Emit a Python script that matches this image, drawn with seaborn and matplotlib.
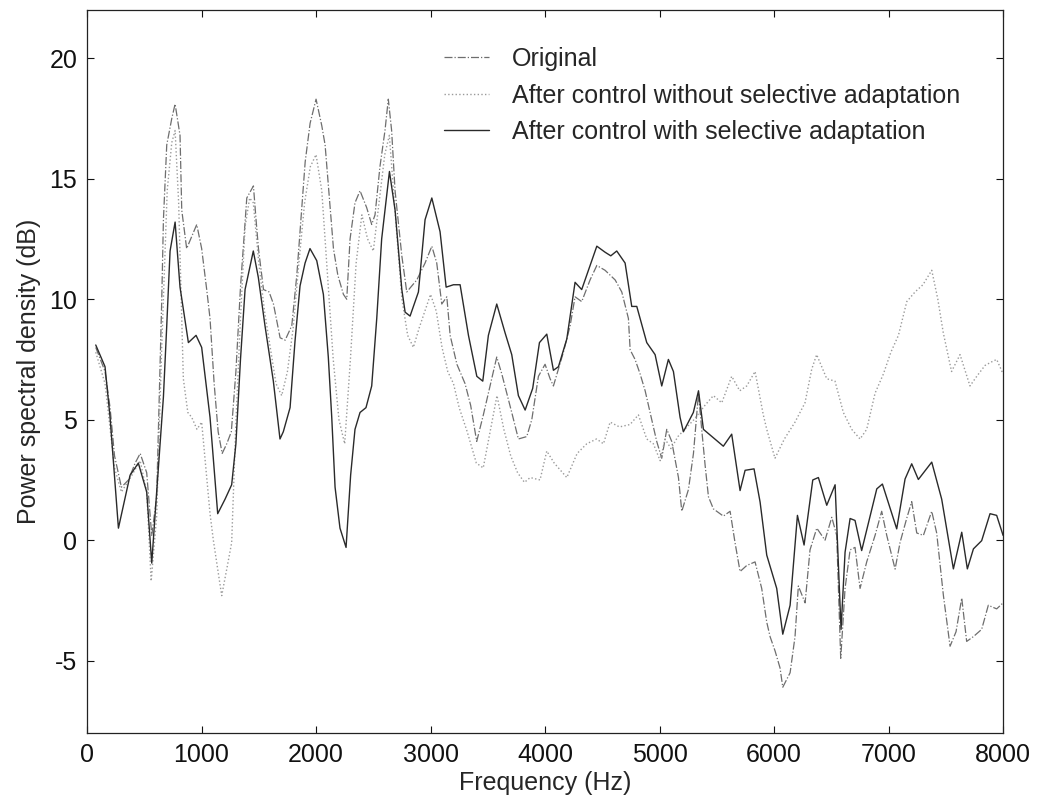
import numpy as np
import pandas as pd
import seaborn as sns
import matplotlib.pyplot as plt

# ------------------ DATA ------------------
freq_orig = [76, 157, 201, 240, 300, 362, 420, 464, 521, 565, 608, 652, 667, 696, 740, 769,
             812, 827, 870, 914, 958, 1001, 1045, 1074, 1110, 1145, 1180, 1220, 1260, 1300,
             1340, 1395, 1453, 1476, 1497, 1541, 1590, 1628, 1686, 1730, 1788, 1832, 1876,
             1905, 1948, 2000, 2050, 2079, 2123, 2152, 2190, 2239, 2268, 2297, 2340, 2384,
             2442, 2486, 2515, 2558, 2602, 2631, 2660, 2690, 2749, 2792, 2880, 2952, 3011,
             3054, 3098, 3142, 3171, 3230, 3301, 3350, 3403, 3461, 3534, 3578, 3622, 3709,
             3767, 3840, 3884, 3942, 4000, 4044, 4073, 4160, 4219, 4262, 4320, 4393, 4452,
             4524, 4612, 4670, 4728, 4743, 4786, 4830, 4874, 4932, 4975, 5019, 5063, 5106,
             5165, 5194, 5252, 5296, 5340, 5368, 5398, 5427, 5470, 5557, 5616, 5659, 5703,
             5761, 5834, 5892, 5936, 5965, 6009, 6052, 6076, 6140, 6183, 6212, 6271, 6314,
             6373, 6445, 6504, 6547, 6582, 6620, 6664, 6707, 6751, 6809, 6882, 6940, 6984,
             7057, 7100, 7158, 7202, 7246, 7304, 7377, 7420, 7479, 7537, 7589, 7639, 7682,
             7741, 7813, 7871, 7944, 8000]
psd_orig = [8.0, 7.0, 5.5, 3.5, 2.2, 2.5, 3.2, 3.6, 2.8, 0.2, 1.8, 9.9, 13.3, 16.4, 17.5, 18.1,
            16.8, 13.7, 12.1, 12.6, 13.1, 12.1, 10.4, 9.2, 6.5, 4.5, 3.6, 4.0, 4.5, 7.0,
            10.5, 14.2, 14.7, 13.3, 12.1, 10.4, 10.3, 9.8, 8.4, 8.3, 8.9, 11.0, 13.8,
            15.7, 17.3, 18.3, 17.2, 16.4, 13.8, 12.1, 11.0, 10.2, 10.0, 12.5, 14.0, 14.5,
            13.8, 13.1, 13.5, 15.5, 17.0, 18.3, 17.0, 14.5, 11.8, 10.3, 10.8, 11.5, 12.2,
            11.5, 9.8, 10.1, 8.5, 7.3, 6.5, 5.6, 4.1, 5.2, 6.7, 7.6, 6.9, 5.3,
            4.2, 4.3, 5.0, 6.8, 7.3, 6.7, 6.4, 7.8, 8.9, 10.1, 9.9, 10.8, 11.4,
            11.2, 10.8, 10.3, 9.2, 7.9, 7.5, 6.9, 6.2, 5.0, 4.1, 3.4, 4.6, 4.1,
            2.6, 1.2, 2.1, 3.6, 6.1, 4.6, 3.1, 1.8, 1.3, 1.0, 1.2, -0.1, -1.3,
            -1.05, -0.9, -2.0, -3.4, -4.0, -4.6, -5.3, -6.1, -5.5, -4.0, -1.9, -2.6, -0.4,
            0.5, 0.0, 0.95, 0.2, -4.9, -2.0, -0.4, -0.3, -2.0, -0.9, 0.2, 1.2, 0.2,
            -1.2, -0.1, 0.9, 1.6, 0.3, 0.2, 1.2, 0.3, -2.3, -4.4, -3.8, -2.4, -4.2,
            -4.0, -3.7, -2.7, -2.85, -2.6]

freq_nosel = [76, 157, 240, 300, 380, 464, 521, 560, 608, 652, 700, 740, 769, 800, 841, 880,
              914, 960, 1001, 1074, 1103, 1176, 1220, 1263, 1300, 1340, 1380, 1420, 1452,
              1500, 1550, 1600, 1650, 1700, 1750, 1800, 1850, 1900, 1950, 2000, 2050, 2100,
              2150, 2200, 2250, 2300, 2350, 2400, 2450, 2500, 2550, 2600, 2640, 2700, 2750,
              2800, 2850, 2900, 2950, 3000, 3050, 3100, 3150, 3200, 3250, 3320, 3400, 3460,
              3520, 3580, 3640, 3700, 3760, 3820, 3870, 3956, 4015, 4080, 4190, 4280, 4364,
              4450, 4510, 4568, 4650, 4742, 4815, 4888, 4946, 5005, 5048, 5100, 5160, 5220,
              5300, 5397, 5470, 5543, 5630, 5700, 5761, 5834, 5906, 5936, 6008, 6090, 6183,
              6270, 6329, 6372, 6416, 6460, 6532, 6605, 6678, 6751, 6809, 6882, 6955, 7020,
              7086, 7159, 7231, 7300, 7377, 7430, 7478, 7550, 7624, 7711, 7770, 7842, 7900,
              7944, 8000]
psd_nosel = [7.8, 6.5, 3.0, 2.0, 2.6, 3.3, 2.0, -1.7, 1.0, 8.0, 14.5, 16.5, 17.0, 14.0, 6.7, 5.3,
             5.1, 4.6, 4.9, 1.1, 0.0, -2.3, -1.2, -0.1, 4.9, 9.2, 13.0, 14.2, 14.0,
             11.5, 9.5, 8.0, 6.5, 6.0, 7.0, 8.8, 11.5, 14.0, 15.5, 16.0, 14.5, 11.0,
             7.5, 5.0, 4.0, 7.5, 11.5, 13.5, 12.5, 12.0, 14.0, 16.0, 16.8, 13.0, 10.0,
             8.5, 8.0, 8.8, 9.5, 10.2, 9.5, 8.0, 7.0, 6.5, 5.5, 4.5, 3.2, 3.0,
             4.5, 6.0, 4.6, 3.5, 2.8, 2.4, 2.6, 2.5, 3.7, 3.2, 2.6, 3.6, 4.0,
             4.2, 4.0, 4.9, 4.7, 4.8, 5.2, 4.2, 4.0, 3.3, 4.2, 3.8, 4.3, 4.6,
             5.0, 5.6, 6.0, 5.7, 6.8, 6.2, 6.4, 7.0, 5.2, 4.6, 3.4, 4.2, 4.9,
             5.7, 7.1, 7.7, 7.2, 6.7, 6.6, 5.3, 4.6, 4.2, 4.6, 6.1, 6.9, 7.8,
             8.5, 9.9, 10.3, 10.6, 11.2, 10.0, 8.6, 7.0, 7.7, 6.4, 6.8, 7.25, 7.4,
             7.5, 6.9]

freq_sel = [76, 157, 201, 274, 376, 448, 521, 565, 608, 667, 696, 725, 769, 812, 885, 952,
            1001, 1074, 1141, 1205, 1263, 1300, 1340, 1380, 1452, 1496, 1554, 1627, 1685,
            1714, 1773, 1816, 1860, 1904, 1947, 2006, 2064, 2107, 2137, 2166, 2209, 2262,
            2302, 2340, 2384, 2436, 2486, 2530, 2573, 2641, 2690, 2749, 2778, 2821, 2894,
            2952, 3011, 3083, 3136, 3200, 3258, 3331, 3404, 3456, 3505, 3578, 3651, 3709,
            3767, 3826, 3892, 3951, 4015, 4073, 4117, 4190, 4262, 4320, 4393, 4452, 4524,
            4574, 4626, 4699, 4757, 4801, 4888, 4961, 5019, 5077, 5121, 5179, 5208, 5295,
            5340, 5383, 5557, 5630, 5703, 5747, 5825, 5878, 5936, 6023, 6076, 6140, 6204,
            6262, 6338, 6387, 6460, 6533, 6585, 6620, 6664, 6707, 6765, 6897, 6946, 7071,
            7144, 7202, 7260, 7377, 7464, 7566, 7639, 7688, 7741, 7813, 7886, 7944, 8000]
psd_sel = [8.1, 7.2, 5.1, 0.5, 2.7, 3.2, 2.0, -0.95, 2.0, 5.95, 8.9, 12.0, 13.2, 10.5, 8.2, 8.5,
           8.0, 5.1, 1.1, 1.7, 2.3, 4.0, 7.5, 10.4, 12.0, 10.9, 8.9, 6.6, 4.2,
           4.5, 5.5, 8.25, 10.55, 11.5, 12.1, 11.6, 10.2, 7.6, 5.1, 2.2, 0.5, -0.3,
           2.7, 4.6, 5.3, 5.5, 6.4, 9.2, 12.5, 15.3, 13.7, 10.4, 9.46, 9.3, 10.3,
           13.3, 14.2, 12.8, 10.5, 10.6, 10.6, 8.5, 6.8, 6.6, 8.5, 9.8, 8.6, 7.7,
           6.0, 5.4, 6.3, 8.2, 8.55, 7.05, 7.2, 8.35, 10.7, 10.4, 11.4, 12.2, 11.95,
           11.8, 12.0, 11.5, 9.7, 9.7, 8.2, 7.7, 6.4, 7.5, 7.0, 5.1, 4.5, 5.3,
           6.2, 4.6, 3.9, 4.4, 2.06, 2.9, 2.96, 1.58, -0.62, -2.0, -3.9, -2.7, 1.03,
           -0.2, 2.5, 2.6, 1.45, 2.3, -3.7, -0.5, 0.9, 0.82, -0.43, 2.13, 2.33, 0.47,
           2.54, 3.17, 2.52, 3.24, 1.7, -1.19, 0.33, -1.19, -0.36, -0.02, 1.1, 1.03, 0.2]

labels = ['Original',
          'After control without selective adaptation',
          'After control with selective adaptation']

df_orig = pd.DataFrame({'Frequency': freq_orig, 'PSD': psd_orig})
df_nosel = pd.DataFrame({'Frequency': freq_nosel, 'PSD': psd_nosel})
df_sel = pd.DataFrame({'Frequency': freq_sel, 'PSD': psd_sel})

# ------------------ STYLE ------------------
sns.set_style('ticks')
plt.rcParams['font.family'] = ['Liberation Sans', 'DejaVu Sans']
plt.rcParams['font.size'] = 18
plt.rcParams['axes.unicode_minus'] = False  # plain hyphen like the original figure

fig = plt.figure(figsize=(10.4, 8.07), dpi=100)
ax = fig.add_axes([0.0837, 0.0917, 0.8808, 0.8959])

sns.lineplot(data=df_orig, x='Frequency', y='PSD', estimator=None, sort=False,
             color='#6e6e6e', linestyle='-.', linewidth=0.9, label=labels[0], ax=ax)
sns.lineplot(data=df_nosel, x='Frequency', y='PSD', estimator=None, sort=False,
             color='#9a9a9a', linestyle=':', linewidth=1.0, label=labels[1], ax=ax)
sns.lineplot(data=df_sel, x='Frequency', y='PSD', estimator=None, sort=False,
             color='#2a2a2a', linestyle='-', linewidth=1.0, label=labels[2], ax=ax)

ax.set_xlim(0, 8000)
ax.set_ylim(-8, 22)
ax.set_xticks(np.arange(0, 8001, 1000))
ax.set_yticks([-5, 0, 5, 10, 15, 20])
ax.set_xlabel('Frequency (Hz)', fontsize=18, labelpad=3)
ax.set_ylabel('Power spectral density (dB)', fontsize=18, labelpad=6)

ax.tick_params(direction='in', length=5, width=0.8, top=True, right=True,
               labelsize=18, pad=7, colors='#111111')
for s in ax.spines.values():
    s.set_visible(True)
    s.set_linewidth(0.9)
    s.set_color('#222222')

ax.legend(loc='upper left', bbox_to_anchor=(0.415, 0.957), bbox_transform=fig.transFigure,
          frameon=False, fontsize=18, handlelength=1.8, handletextpad=0.9,
          labelspacing=0.5, borderpad=0)

plt.savefig('out.png', dpi=100)
plt.close()
